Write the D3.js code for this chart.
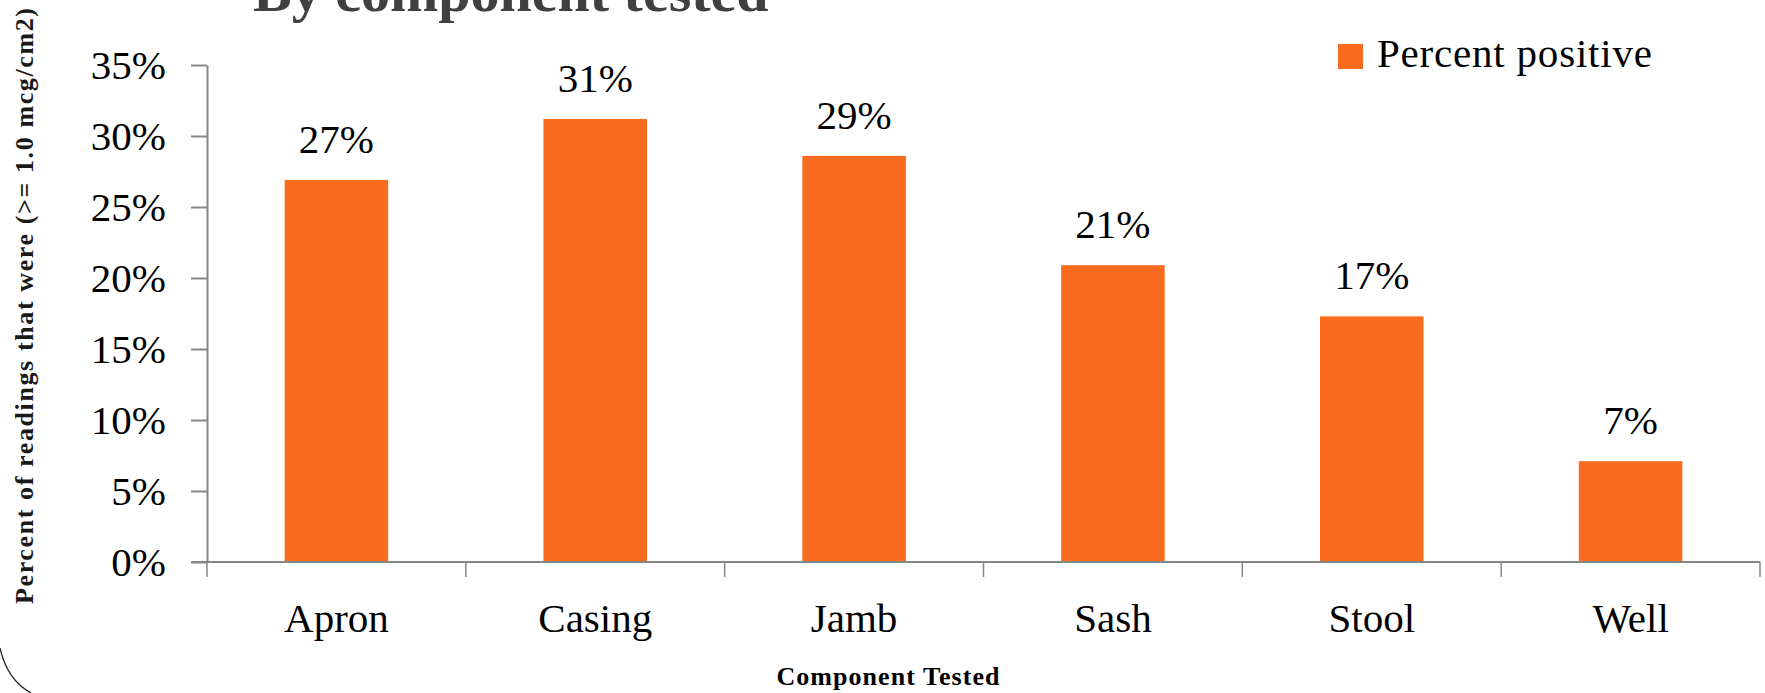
<!DOCTYPE html>
<html>
<head>
<meta charset="utf-8">
<script src="https://cdn.jsdelivr.net/npm/d3@7"></script>
<style>
    html, body { margin: 0; padding: 0; background: #fff; }
    svg { display: block; }
    text { font-family: "Liberation Serif", "DejaVu Serif", serif; }
</style>
</head>
<body>
<div id="chart"></div>
<script>
// Data
const components = ['Apron', 'Casing', 'Jamb', 'Sash', 'Stool', 'Well'];
const percentPositive = [0.269, 0.312, 0.286, 0.209, 0.173, 0.071];
const valueLabels = ['27%', '31%', '29%', '21%', '17%', '7%'];
const yTicks = [0, 0.05, 0.10, 0.15, 0.20, 0.25, 0.30, 0.35];
const seriesName = 'Percent positive';

const width = 1765, height = 693;
const plot = { left: 207, right: 1760, top: 65, bottom: 562 };
const barColor = '#f96b1e';
const axisColor = '#868686';

const svg = d3.select('#chart').append('svg')
    .attr('width', width)
    .attr('height', height);

const x = d3.scaleBand()
    .domain(components)
    .range([plot.left, plot.right])
    .paddingInner(0.6)
    .paddingOuter(0.3);

const y = d3.scaleLinear()
    .domain([0, 0.35])
    .range([plot.bottom, plot.top]);

// Title (cut off at the top of the slide, as in the original)
svg.append('text')
    .attr('x', 253)
    .attr('y', 11)
    .style('font-size', '58px')
    .style('font-weight', 'bold')
    .style('fill', '#404040')
    .text('By component tested');

// Bars
svg.append('g').selectAll('rect')
    .data(components)
    .join('rect')
    .attr('x', d => x(d))
    .attr('y', (d, i) => y(percentPositive[i]))
    .attr('width', x.bandwidth())
    .attr('height', (d, i) => y(0) - y(percentPositive[i]))
    .attr('fill', barColor);

// Value labels
svg.append('g').selectAll('text')
    .data(components)
    .join('text')
    .attr('x', d => x(d) + x.bandwidth() / 2)
    .attr('y', (d, i) => y(percentPositive[i]) - 27)
    .attr('text-anchor', 'middle')
    .style('font-size', '41px')
    .style('fill', '#000')
    .text((d, i) => valueLabels[i]);

// Y axis
const yAxis = svg.append('g')
    .attr('transform', `translate(${plot.left},0)`)
    .call(d3.axisLeft(y).tickValues(yTicks).tickSize(16).tickSizeOuter(0).tickPadding(25)
        .tickFormat(d3.format('.0%')));
yAxis.select('.domain').attr('stroke', axisColor).attr('stroke-width', 2);
yAxis.selectAll('.tick line').attr('stroke', axisColor).attr('stroke-width', 2);
yAxis.selectAll('.tick text')
    .style('font-size', '41px')
    .style('font-family', '"Liberation Serif", serif')
    .attr('fill', '#000')
    .attr('dy', '0.34em');

// X axis: baseline plus ticks at the category boundaries
const step = x.step();
const boundaries = components.map(d => x(d) - (step - x.bandwidth()) / 2)
    .concat([plot.right]);

svg.append('line')
    .attr('x1', plot.left - 16).attr('x2', plot.right)
    .attr('y1', y(0)).attr('y2', y(0))
    .attr('stroke', axisColor).attr('stroke-width', 2);

svg.append('g').selectAll('line')
    .data(boundaries)
    .join('line')
    .attr('x1', d => d).attr('x2', d => d)
    .attr('y1', y(0)).attr('y2', y(0) + 15)
    .attr('stroke', axisColor).attr('stroke-width', 1.5);

const xAxis = svg.append('g')
    .attr('transform', `translate(0,${y(0)})`)
    .call(d3.axisBottom(x).tickSize(0).tickPadding(0));
xAxis.select('.domain').remove();
xAxis.selectAll('.tick text')
    .style('font-size', '41px')
    .style('font-family', '"Liberation Serif", serif')
    .attr('fill', '#000')
    .attr('dy', null)
    .attr('y', 70);

// Axis titles
svg.append('text')
    .attr('x', 888)
    .attr('y', 685)
    .attr('text-anchor', 'middle')
    .attr('textLength', 223)
    .attr('lengthAdjust', 'spacing')
    .style('font-size', '26px')
    .style('font-weight', 'bold')
    .style('fill', '#000')
    .text('Component Tested');

svg.append('text')
    .attr('transform', 'translate(33,306) rotate(-90)')
    .attr('text-anchor', 'middle')
    .attr('textLength', 596)
    .attr('lengthAdjust', 'spacing')
    .style('font-size', '26px')
    .style('font-weight', 'bold')
    .style('fill', '#1a1a1a')
    .text('Percent of readings that were (>= 1.0 mcg/cm2)');

// Legend
const legend = svg.append('g').attr('transform', 'translate(1338,44)');
legend.append('rect')
    .attr('width', 25).attr('height', 25)
    .attr('fill', barColor);
legend.append('text')
    .attr('x', 39).attr('y', 23)
    .attr('textLength', 275)
    .attr('lengthAdjust', 'spacing')
    .style('font-size', '41px')
    .style('fill', '#000')
    .text(seriesName);

// Slide border corner
svg.append('path')
    .attr('d', 'M0,648 Q7,680 31,693')
    .attr('fill', 'none')
    .attr('stroke', '#222')
    .attr('stroke-width', 1.3);
</script>
</body>
</html>
